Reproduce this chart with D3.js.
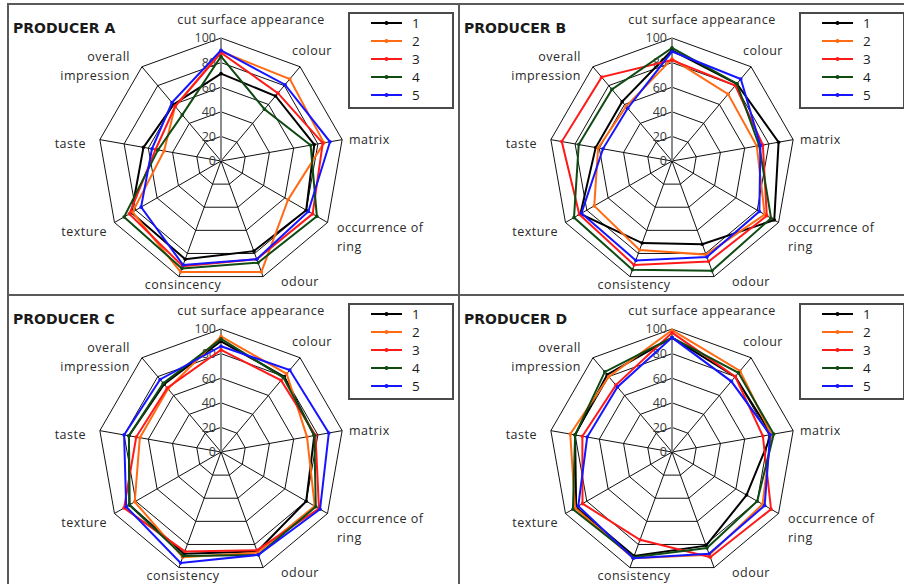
<!DOCTYPE html>
<html>
<head>
<meta charset="utf-8">
<script src="https://cdn.jsdelivr.net/npm/d3@7"></script>
<style>
  html, body { margin: 0; padding: 0; background: #fff; }
  svg { display: block; }
  .axis-label { font-family: "Open Sans", sans-serif; font-size: 12.5px; letter-spacing: 0.5px; fill: #2a2a2a; }
  .tick-label { font-family: "Open Sans", sans-serif; font-size: 12.5px; fill: #3a3a3a; }
  .title { font-family: "DejaVu Sans", sans-serif; font-size: 14px; font-weight: 700; fill: #1a1a1a; }
  .legend-label { font-family: "Open Sans", sans-serif; font-size: 13.5px; fill: #1a1a1a; }
</style>
</head>
<body>
<svg id="chart" width="904" height="584"></svg>
<script>
// Sensory attributes (spokes, clockwise from the top)
const attributes = ["cut surface appearance", "colour", "matrix", "occurrence of ring",
  "odour", "consistency", "texture", "taste", "overall impression"];
// Producer A's sheet spells one attribute differently
const attributesA = ["cut surface appearance", "colour", "matrix", "occurrence of ring",
  "odour", "consincency", "texture", "taste", "overall impression"];

const producers = ["PRODUCER A", "PRODUCER B", "PRODUCER C", "PRODUCER D"];
const samples = ["1", "2", "3", "4", "5"];
const sampleColors = ["#000000", "#ff6a13", "#ff1a1a", "#0f4a12", "#1515ff"];
const ticks = [0, 20, 40, 60, 80, 100];

// Scores per sample, one value per attribute
const producerA = [
  [71, 69, 77, 80, 78, 85, 84, 64, 60],
  [89, 87, 85, 63, 96, 96, 83, 47, 58],
  [88, 72, 84, 86, 85, 91, 86, 54, 58],
  [85, 55, 74, 90, 88, 93, 91, 52, 49],
  [90, 81, 90, 82, 85, 90, 75, 57, 62]
];
const producerB = [
  [90, 82, 88, 96, 72, 71, 86, 63, 63],
  [83, 71, 70, 87, 81, 77, 73, 61, 58],
  [82, 80, 75, 89, 87, 90, 87, 91, 89],
  [92, 82, 72, 93, 95, 94, 92, 77, 76],
  [89, 87, 73, 82, 83, 86, 85, 57, 56]
];
const producerC = [
  [90, 80, 77, 80, 86, 88, 86, 76, 72],
  [94, 83, 71, 88, 87, 91, 81, 67, 67],
  [83, 76, 78, 92, 85, 86, 91, 70, 68],
  [92, 79, 77, 89, 89, 90, 86, 76, 73],
  [86, 87, 89, 93, 89, 96, 89, 80, 77]
];
const producerD = [
  [93, 80, 82, 70, 81, 90, 90, 80, 82],
  [99, 86, 82, 85, 89, 92, 91, 84, 80],
  [97, 80, 75, 93, 91, 76, 84, 74, 71],
  [93, 84, 84, 80, 83, 91, 93, 80, 85],
  [93, 75, 81, 87, 88, 92, 88, 70, 69]
];

const producerScores = [producerA, producerB, producerC, producerD];
const producerAttributes = [attributesA, attributes, attributes, attributes];

// ---- layout ----
const svg = d3.select("#chart");
const gridX0 = 8, gridY0 = 4, cellW = 451, cellH = 291;
const outerR = 123;
const r = d3.scaleLinear().domain([0, 100]).range([0, outerR]);
const angle = d3.scaleLinear().domain([0, attributes.length]).range([0, 2 * Math.PI]);

function point(i, v) {
  const a = angle(i);
  return [Math.sin(a) * r(v), -Math.cos(a) * r(v)];
}

// Label anchors relative to the chart centre: [dx, dy, anchor]
const labelPlacement = [
  [30, -141, "middle"],
  [71, -110, "start"],
  [128, -21, "start"],
  [116, 67, "start"],
  [60, 121, "start"],
  [-38, 124, "middle"],
  [-114, 71, "end"],
  [-135, -17, "end"],
  [-91, -104, "end"]
];

// Cell frames
const frame = svg.append("g");
for (let row = 0; row < 2; row++) {
  for (let col = 0; col < 2; col++) {
    frame.append("rect")
      .attr("x", gridX0 + col * cellW)
      .attr("y", gridY0 + row * cellH)
      .attr("width", cellW)
      .attr("height", cellH)
      .attr("fill", "none")
      .attr("stroke", "#5a5a5a")
      .attr("stroke-width", 2);
  }
}

const line = d3.line().curve(d3.curveLinearClosed);

producers.forEach((name, p) => {
  const col = p % 2, row = Math.floor(p / 2);
  const ox = gridX0 + col * cellW, oy = gridY0 + row * cellH;
  const cx = ox + 213, cy = oy + 157;
  const g = svg.append("g");

  g.append("text").attr("class", "title")
    .attr("x", ox + 5).attr("y", oy + 29).text(name);

  const chart = g.append("g").attr("transform", `translate(${cx},${cy})`);

  // rings
  ticks.filter(t => t > 0).forEach(t => {
    chart.append("path")
      .attr("d", line(attributes.map((_, i) => point(i, t))))
      .attr("fill", "none").attr("stroke", "#111").attr("stroke-width", 1);
  });
  // spokes
  attributes.forEach((_, i) => {
    if (i === 0) return;
    const [x, y] = point(i, 100);
    chart.append("line").attr("x1", 0).attr("y1", 0).attr("x2", x).attr("y2", y)
      .attr("stroke", "#111").attr("stroke-width", 1);
  });
  // value axis
  chart.append("line").attr("x1", 0).attr("y1", 0).attr("x2", 0).attr("y2", -r(100))
    .attr("stroke", "#8a8a8a").attr("stroke-width", 2);

  // tick labels
  ticks.forEach(t => {
    chart.append("text").attr("class", "tick-label")
      .attr("x", -5).attr("y", -r(t)).attr("dy", "0.35em")
      .attr("text-anchor", "end").text(t);
  });

  // series
  producerScores[p].forEach((vals, s) => {
    const pts = vals.map((v, i) => point(i, v));
    chart.append("path").attr("d", line(pts))
      .attr("fill", "none").attr("stroke", sampleColors[s])
      .attr("stroke-width", 2).attr("stroke-linejoin", "miter");
    chart.selectAll(null).data(pts).join("circle")
      .attr("cx", d => d[0]).attr("cy", d => d[1]).attr("r", 1.8)
      .attr("fill", sampleColors[s]);
  });

  // attribute labels
  producerAttributes[p].forEach((lab, i) => {
    const [dx, dy, anchor] = labelPlacement[i];
    const t = chart.append("text").attr("class", "axis-label")
      .attr("x", dx).attr("y", dy).attr("text-anchor", anchor);
    const parts = lab === "occurrence of ring" ? ["occurrence of", "ring"]
      : lab === "overall impression" ? ["overall", "impression"] : [lab];
    parts.forEach((pt, k) => {
      t.append("tspan").attr("x", dx).attr("dy", k === 0 ? "0.35em" : "1.45em").text(pt);
    });
  });

  // legend
  const lg = g.append("g").attr("transform", `translate(${ox + 341},${oy + 9})`);
  lg.append("rect").attr("width", 104).attr("height", 95)
    .attr("fill", "#fff").attr("stroke", "#4a4a4a").attr("stroke-width", 2);
  samples.forEach((sname, s) => {
    const y = 10 + s * 18;
    lg.append("line").attr("x1", 22).attr("x2", 53).attr("y1", y).attr("y2", y)
      .attr("stroke", sampleColors[s]).attr("stroke-width", 2);
    lg.append("circle").attr("cx", 37.5).attr("cy", y).attr("r", 2).attr("fill", sampleColors[s]);
    lg.append("text").attr("class", "legend-label").attr("x", 63).attr("y", y)
      .attr("dy", "0.36em").text(sname);
  });
});
</script>
</body>
</html>
